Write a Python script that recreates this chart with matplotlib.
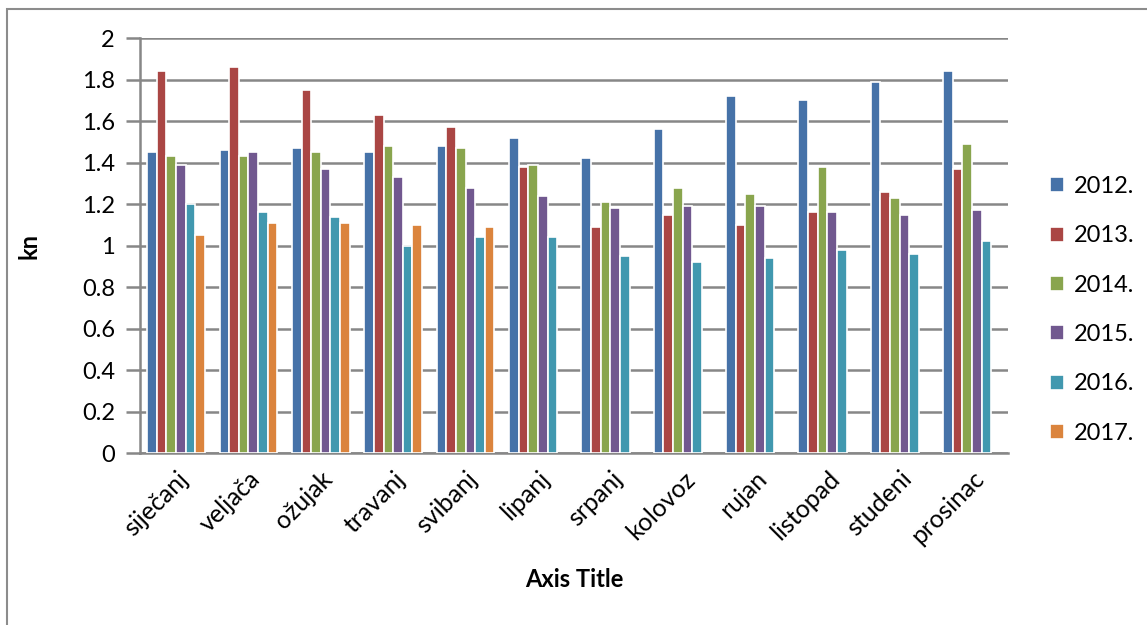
import numpy as np
import matplotlib
matplotlib.use("Agg")
import matplotlib.pyplot as plt
from matplotlib.patches import Rectangle

plt.rcParams['font.family'] = ['Lato', 'DejaVu Sans']

# months (Croatian) and yearly values in kn
months = ['siječanj', 'veljača', 'ožujak', 'travanj', 'svibanj', 'lipanj',
          'srpanj', 'kolovoz', 'rujan', 'listopad', 'studeni', 'prosinac']
years = ['2012.', '2013.', '2014.', '2015.', '2016.', '2017.']

v2012 = [1.45, 1.46, 1.47, 1.45, 1.48, 1.52, 1.42, 1.56, 1.72, 1.70, 1.79, 1.84]
v2013 = [1.84, 1.86, 1.75, 1.63, 1.57, 1.38, 1.09, 1.15, 1.10, 1.16, 1.26, 1.37]
v2014 = [1.43, 1.43, 1.45, 1.48, 1.47, 1.39, 1.21, 1.28, 1.25, 1.38, 1.23, 1.49]
v2015 = [1.39, 1.45, 1.37, 1.33, 1.28, 1.24, 1.18, 1.19, 1.19, 1.16, 1.15, 1.17]
v2016 = [1.20, 1.16, 1.14, 1.00, 1.04, 1.04, 0.95, 0.92, 0.94, 0.98, 0.96, 1.02]
v2017 = [1.05, 1.11, 1.11, 1.10, 1.09]  # only first five months

series = [v2012, v2013, v2014, v2015, v2016, v2017]
colors = ['#4672A8', '#AA4644', '#89A54E', '#71588F', '#4198AF', '#DB843D']

fig = plt.figure(figsize=(11.47, 6.25), dpi=100)
ax = fig.add_axes([0.122, 0.275, 0.757, 0.664])

# outer chart frame
fig.patches.append(Rectangle((7 / 1147, -0.1), 1.2, (625 - 9) / 625 + 0.1,
                             transform=fig.transFigure, fill=False,
                             edgecolor='#8c8c8c', linewidth=1.5))

slot = 1 / 7.5  # 6 bars + 150% gap
x = np.arange(len(months))
for i, (vals, col, yr) in enumerate(zip(series, colors, years)):
    pos = x[:len(vals)] - 3 * slot + (i + 0.5) * slot
    ax.bar(pos, vals, width=slot, color=col, edgecolor='white',
           linewidth=1.2, label=yr, zorder=3)

ax.set_xlim(-0.5, len(months) - 0.5)
ax.set_ylim(0, 2)
ax.set_yticks(np.arange(0, 2.01, 0.2))
ax.set_yticklabels(['0', '0.2', '0.4', '0.6', '0.8', '1', '1.2', '1.4', '1.6', '1.8', '2'])
ax.yaxis.grid(True, color='#878787', linewidth=1.8, zorder=0)
ax.set_axisbelow(True)

for s in ['top', 'right']:
    ax.spines[s].set_visible(False)
for s in ['left', 'bottom']:
    ax.spines[s].set_color('#878787')
    ax.spines[s].set_linewidth(1.8)

ax.tick_params(axis='y', length=10, width=1.8, color='#878787', labelsize=17, pad=8)
ax.tick_params(axis='x', length=0, labelsize=18, pad=10)
ax.set_xticks(x)
ax.set_xticklabels(months, rotation=45, ha='right', rotation_mode='anchor')

ax.set_xlabel('Axis Title', fontsize=17, fontweight='bold', labelpad=14)
ax.set_ylabel('kn', fontsize=17, fontweight='bold', labelpad=30)

ax.legend(loc='center left', bbox_to_anchor=(1050 / 1147, (625 - 310) / 625),
          bbox_transform=fig.transFigure, frameon=False, borderaxespad=0,
          borderpad=0, fontsize=17, handlelength=0.6, handleheight=0.6,
          labelspacing=1.2, handletextpad=0.4)

fig.savefig('out.png', dpi=100)
